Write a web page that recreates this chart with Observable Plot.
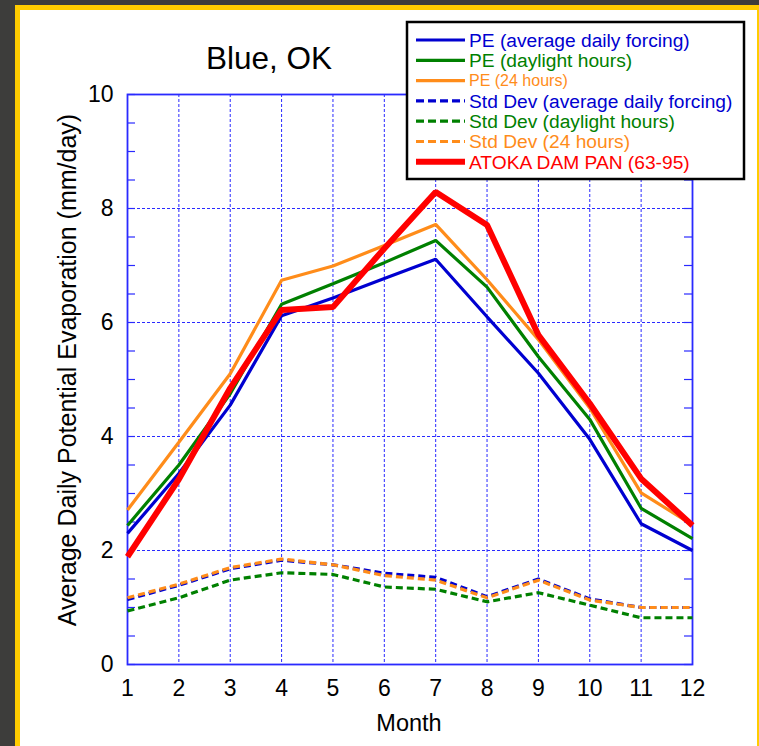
<!DOCTYPE html>
<html>
<head>
<meta charset="utf-8">
<script src="https://cdn.jsdelivr.net/npm/d3@7"></script>
<script src="https://cdn.jsdelivr.net/npm/@observablehq/plot@0.6"></script>
<style>
  html, body { margin: 0; padding: 0; }
  body { width: 759px; height: 746px; background: #3d3d3b; position: relative; overflow: hidden; font-family: "Liberation Sans", Arial, sans-serif; }
  #panel { position: absolute; left: 15px; top: 5px; width: 737px; height: 741px; background: #fff; border-left: 5px solid #ffcc00; border-top: 5px solid #ffcc00; border-right: 2px solid #ffcc00; }
  #chart { position: absolute; left: 0; top: 0; }
</style>
</head>
<body>
<div id="panel"></div>
<div id="chart"></div>
<script>
const months = [1,2,3,4,5,6,7,8,9,10,11,12];
const peAvg   = [2.30,3.35,4.55,6.12,6.43,6.77,7.11,6.10,5.11,3.95,2.47,2.00];
const peDay   = [2.44,3.50,4.75,6.32,6.68,7.05,7.44,6.62,5.40,4.30,2.74,2.21];
const pe24    = [2.71,3.90,5.10,6.74,6.99,7.35,7.72,6.75,5.70,4.50,3.01,2.45];
const sdAvg   = [1.14,1.39,1.68,1.83,1.75,1.60,1.53,1.19,1.50,1.15,1.00,1.00];
const sdDay   = [0.94,1.17,1.48,1.61,1.58,1.36,1.32,1.10,1.26,1.04,0.82,0.82];
const sd24    = [1.17,1.41,1.70,1.85,1.75,1.56,1.48,1.17,1.48,1.13,1.00,1.00];
const atoka   = [1.89,3.25,4.85,6.22,6.27,7.30,8.29,7.71,5.78,4.58,3.26,2.44];
const yMajor = [0,2,4,6,8,10];
const yMinor = d3.range(0, 10.001, 0.5);

const BLUE = "#0000d0", GREEN = "#008000", ORANGE = "#ff8c1a", RED = "#ff0000", GRID = "#2a2aff";

const series = [
  {name: "PE (average daily forcing)", values: peAvg, color: BLUE, dash: null, width: 3.2, fs: 19.2},
  {name: "PE (daylight hours)", values: peDay, color: GREEN, dash: null, width: 3.2, fs: 19.2},
  {name: "PE (24 hours)", values: pe24, color: ORANGE, dash: null, width: 3.2, fs: 16},
  {name: "Std Dev (average daily forcing)", values: sdAvg, color: BLUE, dash: "7,4", width: 3.2, fs: 19.2},
  {name: "Std Dev (daylight hours)", values: sdDay, color: GREEN, dash: "7,4", width: 3.2, fs: 19.2},
  {name: "Std Dev (24 hours)", values: sd24, color: ORANGE, dash: "7,4", width: 3.2, fs: 19.2},
  {name: "ATOKA DAM PAN (63-95)", values: atoka, color: RED, dash: null, width: 6, fs: 19.2}
];
const drawOrder = [3,5,4,0,1,2,6];

const W = 759, H = 746, mL = 127, mR = 67, mT = 94, mB = 82;
const plotW = W - mL - mR;

const lineMarks = drawOrder.map(i => {
  const s = series[i];
  return Plot.line(months.map((m, j) => ({month: m, value: s.values[j]})), {
    x: "month", y: "value", stroke: s.color, strokeWidth: s.width,
    strokeDasharray: s.dash, strokeLinejoin: "miter", strokeLinecap: "butt"
  });
});

const chart = Plot.plot({
  width: W, height: H,
  marginLeft: mL, marginRight: mR, marginTop: mT, marginBottom: mB,
  style: {background: "transparent", fontFamily: "Liberation Sans, Arial, sans-serif", color: "#000"},
  x: {domain: [1, 12]},
  y: {domain: [0, 10]},
  marks: [
    Plot.ruleX(months, {stroke: GRID, strokeWidth: 1, strokeDasharray: "3,2"}),
    Plot.ruleY(yMajor, {stroke: GRID, strokeWidth: 1, strokeDasharray: "3,2"}),
    Plot.ruleY(yMinor, {stroke: GRID, strokeWidth: 1.2, insetRight: plotW - 8}),
    Plot.ruleY(yMinor, {stroke: GRID, strokeWidth: 1.2, insetLeft: plotW - 8}),
    Plot.frame({stroke: GRID, strokeWidth: 1.8}),
    Plot.axisY({ticks: yMajor, tickSize: 0, tickPadding: 14, fontSize: 23, label: null, tickFormat: d => d}),
    Plot.axisX({ticks: months, tickSize: 0, tickPadding: 15, fontSize: 23, label: null, tickFormat: d => d}),
    ...lineMarks
  ]
});
document.getElementById("chart").appendChild(chart);

const svg = d3.select(chart);
const ff = "Liberation Sans, Arial, sans-serif";
svg.append("text").attr("x", 269).attr("y", 69).attr("text-anchor", "middle")
  .attr("font-size", 31.5).attr("font-family", ff).attr("fill", "#000").text("Blue, OK");
svg.append("text").attr("transform", "translate(76,370) rotate(-90)").attr("text-anchor", "middle")
  .attr("font-size", 25).attr("font-family", ff).attr("fill", "#000")
  .text("Average Daily Potential Evaporation (mm/day)");
svg.append("text").attr("x", 409).attr("y", 731).attr("text-anchor", "middle")
  .attr("font-size", 23.5).attr("font-family", ff).attr("fill", "#000").text("Month");

// legend
const lg = svg.append("g").attr("text-anchor", "start");
lg.append("rect").attr("x", 407).attr("y", 22).attr("width", 337).attr("height", 157)
  .attr("fill", "#fff").attr("stroke", "#000").attr("stroke-width", 2.5);
series.forEach((s, i) => {
  const y = 40 + i * 20.3;
  lg.append("line").attr("x1", 416).attr("x2", 465).attr("y1", y).attr("y2", y)
    .attr("stroke", s.color).attr("stroke-width", s.width)
    .attr("stroke-dasharray", s.dash ? "8,4" : null);
  lg.append("text").attr("x", 469).attr("y", y + (s.fs > 17 ? 6.8 : 5.5))
    .attr("text-anchor", "start")
    .attr("font-size", s.fs).attr("font-family", ff).attr("fill", s.color)
    .text(s.name);
});
</script>
</body>
</html>
